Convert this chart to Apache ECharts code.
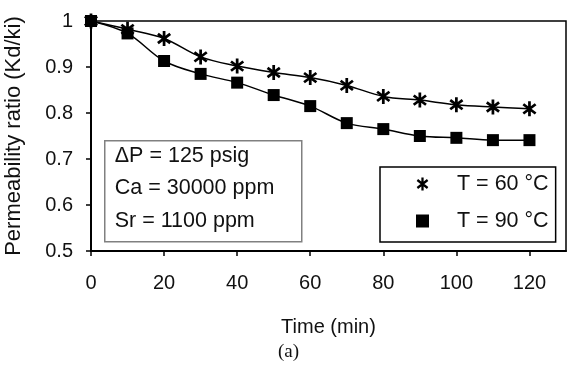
<!DOCTYPE html>
<html>
<head>
<meta charset="utf-8">
<script src="https://cdn.jsdelivr.net/npm/echarts@6/dist/echarts.min.js"></script>
<style>
  html, body { margin: 0; padding: 0; background: #fff; }
  #chart { width: 568px; height: 369px; }
</style>
</head>
<body>
<div id="chart"></div>
<script>
// time axis (min)
const tiempos = [0, 10, 20, 30, 40, 50, 60, 70, 80, 90, 100, 110, 120];
// permeability ratio Kd/ki
const ratio60 = [1.0, 0.982, 0.962, 0.922, 0.902, 0.888, 0.877, 0.860, 0.836, 0.828, 0.818, 0.813, 0.809];
const ratio90 = [1.0, 0.973, 0.913, 0.885, 0.866, 0.839, 0.815, 0.778, 0.765, 0.750, 0.746, 0.741, 0.741];
const nombres = ['T = 60 °C', 'T = 90 °C'];
const notas = ['ΔP = 125 psig', 'Ca = 30000 ppm', 'Sr = 1100 ppm'];

const fuente = '"Liberation Sans", Arial, sans-serif';

// asterisk marker built from three thick bars
const asterisco = function () {
  const r = 6, t = 1.05;
  let d = '';
  [0, 52, -52].forEach(function (g) {
    const a = g * Math.PI / 180;
    const dx = Math.sin(a), dy = -Math.cos(a);
    const px = Math.cos(a), py = Math.sin(a);
    const pts = [
      [dx * r + px * t, dy * r + py * t],
      [dx * r - px * t, dy * r - py * t],
      [-dx * r - px * t, -dy * r - py * t],
      [-dx * r + px * t, -dy * r + py * t]
    ];
    d += 'M' + pts.map(p => p[0].toFixed(3) + ' ' + p[1].toFixed(3)).join(' L') + ' Z ';
  });
  return 'path://' + d;
}();

const chartDom = document.getElementById('chart');
const myChart = echarts.init(chartDom, null, { renderer: 'canvas' });

const option = {
  animation: false,
  backgroundColor: '#fff',
  textStyle: { fontFamily: fuente, color: '#111' },
  grid: {
    left: 91, top: 21, right: 2, bottom: 118,
    outerBoundsMode: 'none',
    show: true, borderColor: '#000', borderWidth: 1.5
  },
  xAxis: {
    type: 'value',
    min: 0, max: 130, interval: 20,
    name: 'Time (min)',
    nameLocation: 'middle',
    nameGap: 66,
    nameTextStyle: { fontSize: 20, color: '#111', fontFamily: fuente },
    axisLine: { show: true, onZero: false, lineStyle: { color: '#000', width: 2 } },
    axisTick: { show: true, length: 5, lineStyle: { color: '#000', width: 1.5 } },
    axisLabel: { fontSize: 20, color: '#111', margin: 22, showMaxLabel: false },
    splitLine: { show: false }
  },
  yAxis: {
    type: 'value',
    min: 0.5, max: 1, interval: 0.1,
    name: 'Permeability ratio (Kd/ki)',
    nameLocation: 'middle',
    nameRotate: 90,
    nameGap: 66,
    nameTextStyle: { fontSize: 22, color: '#111', fontFamily: fuente },
    axisLine: { show: true, lineStyle: { color: '#000', width: 2 } },
    axisTick: { show: true, length: 5, lineStyle: { color: '#000', width: 1.5 } },
    axisLabel: {
      fontSize: 20, color: '#111', margin: 18,
      formatter: v => (Math.abs(v - 1) < 1e-9 ? '1' : v.toFixed(1))
    },
    splitLine: { show: false }
  },
  legend: {
    left: 380, top: 167,
    orient: 'vertical',
    backgroundColor: '#fff',
    borderColor: '#000',
    borderWidth: 1.5,
    borderRadius: 0,
    padding: [6, 7, 10, 36],
    itemGap: 15,
    itemWidth: 13,
    itemHeight: 13,
    textStyle: { fontSize: 21.5, color: '#111', fontFamily: fuente, lineHeight: 21, padding: [0, 0, 0, 23] },
    data: [
      { name: nombres[0], icon: asterisco },
      { name: nombres[1], icon: 'rect' }
    ]
  },
  graphic: [
    {
      type: 'group',
      left: 104, top: 140,
      z: 50,
      children: [
        {
          type: 'rect',
          shape: { x: 0, y: 0, width: 197, height: 101 },
          style: { fill: '#fff', stroke: '#808080', lineWidth: 1.5 }
        },
        ...notas.map((t, i) => ({
          type: 'text',
          x: 10, y: 15 + i * 32.5,
          style: { text: t, font: '21.5px ' + fuente, fill: '#111', verticalAlign: 'middle' }
        }))
      ]
    },
    {
      type: 'text',
      left: 278, top: 343,
      style: { text: '(a)', font: '19px "Liberation Serif", "Times New Roman", serif', fill: '#111' }
    }
  ],
  series: [
    {
      name: nombres[0],
      type: 'line',
      smooth: 0.35,
      symbol: asterisco,
      symbolSize: [14, 15],
      itemStyle: { color: '#000' },
      lineStyle: { color: '#000', width: 1.5 },
      data: tiempos.map((t, i) => [t, ratio60[i]]),
      z: 3
    },
    {
      name: nombres[1],
      type: 'line',
      smooth: 0.35,
      symbol: 'rect',
      symbolSize: 12,
      itemStyle: { color: '#000' },
      lineStyle: { color: '#000', width: 1.5 },
      data: tiempos.map((t, i) => [t, ratio90[i]]),
      z: 3
    }
  ]
};

option && myChart.setOption(option);
</script>
</body>
</html>
